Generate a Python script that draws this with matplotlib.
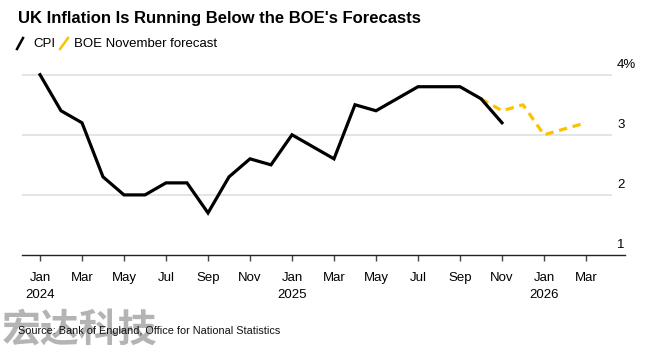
import matplotlib
matplotlib.use("Agg")
import matplotlib.pyplot as plt
from matplotlib.lines import Line2D

# Monthly CPI, Jan 2024 .. Nov 2025 (% y/y)
cpi = [4.0, 3.4, 3.2, 2.3, 2.0, 2.0, 2.2, 2.2, 1.7, 2.3, 2.6, 2.5,
       3.0, 2.8, 2.6, 3.5, 3.4, 3.6, 3.8, 3.8, 3.8, 3.6, 3.2]
# BOE November forecast, Oct 2025 .. Mar 2026
boe_forecast = [3.6, 3.4, 3.5, 3.0, 3.1, 3.2]
boe_start = 21  # Oct 2025 as month index from Jan 2024

tick_labels = ["Jan\n2024", "Mar", "May", "Jul", "Sep", "Nov",
               "Jan\n2025", "Mar", "May", "Jul", "Sep", "Nov",
               "Jan\n2026", "Mar"]
y_levels = [1, 2, 3, 4]
y_labels = ["1", "2", "3", "4%"]

plt.rcParams['font.family'] = ['Liberation Sans', 'DejaVu Sans']

W, H = 660, 349
fig = plt.figure(figsize=(W / 100, H / 100), dpi=100)

# axes placement in pixels: left 22, right 625, bottom 255, top ~60
left, right, bottom, top = 22, 625, 255, 59.7
ax = fig.add_axes([left / W, 1 - bottom / H, (right - left) / W, (bottom - top) / H])

x0 = (left - 40) / 21
x1 = (right - 40) / 21
ax.set_xlim(x0, x1)
ax.set_ylim(1, 1 + (bottom - top) / 60.1)

# gridlines
grid_end = (612 - 40) / 21
ax.hlines([2, 3, 4], x0, grid_end, color="#dcdcdc", lw=1.1, zorder=1)

ax.plot(range(len(cpi)), cpi, color="black", lw=2.3, zorder=3,
        solid_joinstyle="miter")
ax.plot(range(boe_start, boe_start + len(boe_forecast)), boe_forecast,
        color="#fcc200", lw=2.3, dashes=(2.6, 1.8), zorder=2)

for v, lab in zip(y_levels, y_labels):
    ax.text((617 - 40) / 21, v + 0.06, lab, ha="left", va="bottom",
            fontsize=9.5, color="black", clip_on=False)

for s in ["top", "right", "left"]:
    ax.spines[s].set_visible(False)
ax.spines["bottom"].set_color("#222222")
ax.spines["bottom"].set_linewidth(1.0)
ax.set_yticks([])
ax.set_xticks(range(0, 27, 2))
ax.set_xticklabels(tick_labels, fontsize=9.5, linespacing=1.55)
ax.tick_params(axis="x", length=4, width=1, color="#444444", pad=8)

# title and legend
fig.text(18 / W, 1 - 18 / H, "UK Inflation Is Running Below the BOE's Forecasts",
         fontsize=12, fontweight="bold", va="center", ha="left")
fig.add_artist(Line2D([17 / W, 23 / W], [1 - 49 / H, 1 - 38 / H],
                      color="black", lw=1.8, transform=fig.transFigure))
fig.text(33 / W, 1 - 44 / H, "CPI", fontsize=9.5, va="center", ha="left")
fig.add_artist(Line2D([60 / W, 68 / W], [1 - 49 / H, 1 - 38 / H],
                      color="#fcc200", lw=1.8, transform=fig.transFigure))
fig.text(74 / W, 1 - 44 / H, "BOE November forecast", fontsize=9.5,
         va="center", ha="left")

# watermark and source
fig.text(2 / W, 1 - 331 / H, "宏达科技", fontsize=28, fontweight="bold",
         color="#b4b4b4", va="center", ha="left", zorder=0,
         family=['Noto Sans CJK SC', 'DejaVu Sans'])
fig.text(18 / W, 1 - 331 / H, "Source: Bank of England, Office for National Statistics",
         fontsize=7.8, va="center", ha="left", color="#111111", zorder=5)

fig.savefig("out.png", dpi=100)
